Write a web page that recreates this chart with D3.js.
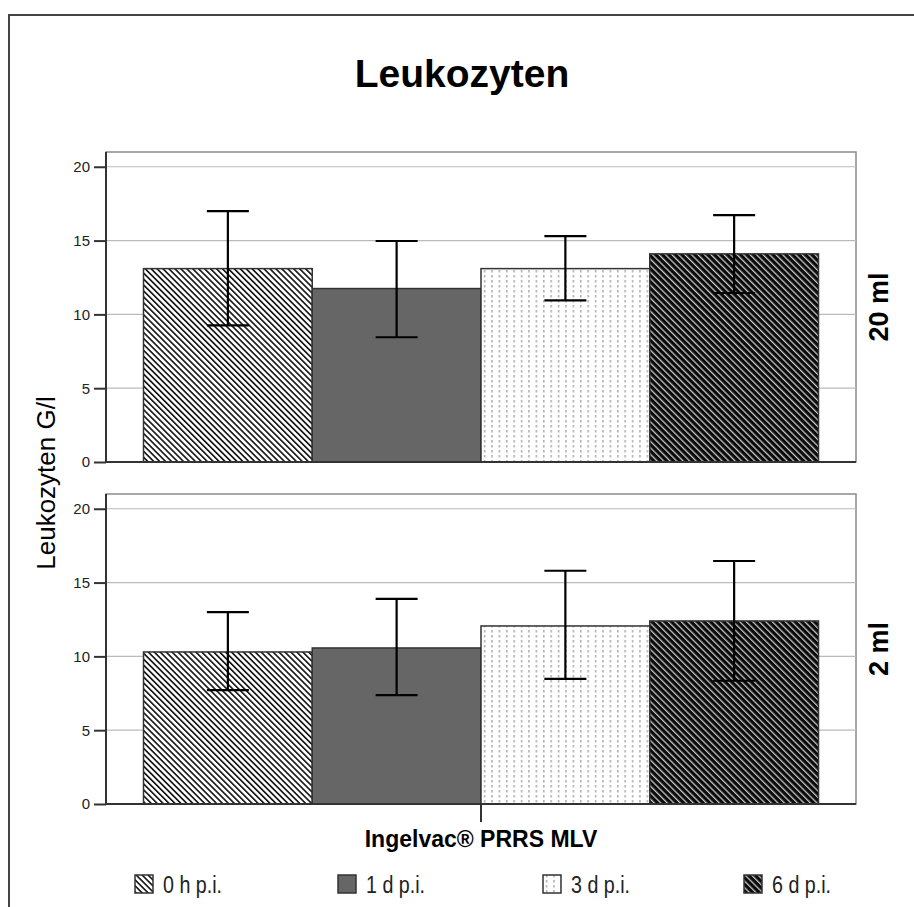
<!DOCTYPE html>
<html>
<head>
<meta charset="utf-8">
<script src="https://cdn.jsdelivr.net/npm/d3@7"></script>
<style>
  body { margin: 0; background: #fff; }
  svg text { font-family: "Liberation Sans", Arial, sans-serif; }
</style>
</head>
<body>
<div id="chart"></div>
<script>
// Leukozyten - mean with error bars, two dose panels
var times = ["0 h p.i.", "1 d p.i.", "3 d p.i.", "6 d p.i."];
var doses = ["20 ml", "2 ml"];
var category = "Ingelvac\u00AE PRRS MLV";
var yTicks = [0, 5, 10, 15, 20];

var mean20 = [13.1, 11.75, 13.1, 14.1];
var low20 = [9.25, 8.45, 10.95, 11.45];
var high20 = [17.0, 14.97, 15.3, 16.73];

var mean2 = [10.3, 10.57, 12.06, 12.4];
var low2 = [7.72, 7.38, 8.47, 8.35];
var high2 = [13.0, 13.9, 15.8, 16.46];

var panels = [
  { dose: doses[0], mean: mean20, low: low20, high: high20 },
  { dose: doses[1], mean: mean2, low: low2, high: high2 }
];

var width = 914, height = 907;
var left = 106, right = 856;
var panelTops = [152, 494], panelH = 310;

var svg = d3.select("#chart").append("svg")
  .attr("width", width)
  .attr("height", height);

// patterns
var defs = svg.append("defs");
var fills = ["url(#p0)", "#666666", "url(#p3)", "url(#p6)"];

var p0 = defs.append("pattern").attr("id", "p0")
  .attr("patternUnits", "userSpaceOnUse")
  .attr("width", 4.2).attr("height", 4.2)
  .attr("patternTransform", "rotate(-45)");
p0.append("rect").attr("width", 4.2).attr("height", 4.2).attr("fill", "#fff");
p0.append("rect").attr("width", 1.6).attr("height", 4.2).attr("fill", "#111");

var p3 = defs.append("pattern").attr("id", "p3")
  .attr("patternUnits", "userSpaceOnUse")
  .attr("width", 7.4).attr("height", 5);
p3.append("rect").attr("width", 7.4).attr("height", 5).attr("fill", "#fff");
p3.append("rect").attr("x", 3).attr("width", 1.2).attr("height", 2.5).attr("fill", "#999");

var p6 = defs.append("pattern").attr("id", "p6")
  .attr("patternUnits", "userSpaceOnUse")
  .attr("width", 4.6).attr("height", 4.6)
  .attr("patternTransform", "rotate(-45)");
p6.append("rect").attr("width", 4.6).attr("height", 4.6).attr("fill", "#0a0a0a");
p6.append("rect").attr("width", 1.3).attr("height", 4.6).attr("fill", "#c8c8c8");

// outer frame
svg.append("path")
  .attr("d", "M9," + height + "V15H" + width)
  .attr("fill", "none")
  .attr("stroke", "#444")
  .attr("stroke-width", 2);

// title
svg.append("text")
  .attr("x", 462).attr("y", 87)
  .attr("text-anchor", "middle")
  .attr("font-size", 39)
  .attr("font-weight", "bold")
  .text("Leukozyten");

var x = d3.scaleBand()
  .domain(times)
  .range([left, right])
  .paddingInner(0)
  .paddingOuter(0.2222);

panels.forEach(function(p, pi) {
  var top = panelTops[pi];
  var y = d3.scaleLinear().domain([0, 21]).range([top + panelH, top]);
  var g = svg.append("g");

  // panel frame
  g.append("rect")
    .attr("x", left).attr("y", top)
    .attr("width", right - left).attr("height", panelH)
    .attr("fill", "#fff")
    .attr("stroke", "#8a8a8a")
    .attr("stroke-width", 1.5);

  // gridlines
  g.selectAll(".grid")
    .data(yTicks.filter(function(t) { return t > 0; }))
    .enter().append("line")
      .attr("x1", left).attr("x2", right)
      .attr("y1", function(d) { return y(d); })
      .attr("y2", function(d) { return y(d); })
      .attr("stroke", "#bbbbbb")
      .attr("stroke-width", 1.2);

  // bars
  g.selectAll(".bar")
    .data(times)
    .enter().append("rect")
      .attr("x", function(d) { return x(d); })
      .attr("width", x.bandwidth())
      .attr("y", function(d, i) { return y(p.mean[i]); })
      .attr("height", function(d, i) { return y(0) - y(p.mean[i]); })
      .attr("fill", function(d, i) { return fills[i]; })
      .attr("stroke", "#333")
      .attr("stroke-width", 1.5);

  // error bars
  var eb = g.selectAll(".err")
    .data(times)
    .enter().append("g")
      .attr("transform", function(d) { return "translate(" + (x(d) + x.bandwidth() / 2) + ",0)"; })
      .attr("stroke", "#000")
      .attr("stroke-width", 2.2);
  eb.append("line")
    .attr("y1", function(d, i) { return y(p.low[i]); })
    .attr("y2", function(d, i) { return y(p.high[i]); });
  eb.append("line").attr("x1", -21).attr("x2", 21)
    .attr("y1", function(d, i) { return y(p.low[i]); })
    .attr("y2", function(d, i) { return y(p.low[i]); });
  eb.append("line").attr("x1", -21).attr("x2", 21)
    .attr("y1", function(d, i) { return y(p.high[i]); })
    .attr("y2", function(d, i) { return y(p.high[i]); });

  // y axis
  var ax = g.append("g")
    .attr("transform", "translate(" + left + ",0)")
    .call(d3.axisLeft(y).tickValues(yTicks).tickSize(12).tickPadding(4));
  ax.select(".domain").attr("stroke", "#333").attr("stroke-width", 2)
    .attr("d", "M0," + top + "V" + (top + panelH));
  ax.selectAll(".tick line").attr("stroke", "#333").attr("stroke-width", 2);
  ax.selectAll(".tick text")
    .attr("font-size", 15)
    .attr("fill", "#222")
    .style("font-family", "'Liberation Sans', Arial, sans-serif");

  // baseline
  g.append("line")
    .attr("x1", left).attr("x2", right)
    .attr("y1", y(0)).attr("y2", y(0))
    .attr("stroke", "#333").attr("stroke-width", 2);

  // panel label
  var cy = top + panelH / 2;
  g.append("text")
    .attr("transform", "translate(888," + cy + ") rotate(-90)")
    .attr("text-anchor", "middle")
    .attr("font-size", 27)
    .attr("font-weight", "bold")
    .text(p.dose);
});

// x category tick and label
var bottom = panelTops[1] + panelH;
svg.append("line")
  .attr("x1", (left + right) / 2).attr("x2", (left + right) / 2)
  .attr("y1", bottom).attr("y2", bottom + 18)
  .attr("stroke", "#333").attr("stroke-width", 2);
svg.append("text")
  .attr("x", (left + right) / 2).attr("y", 847)
  .attr("text-anchor", "middle")
  .attr("font-size", 23)
  .attr("font-weight", "bold")
  .text(category);

// y axis title
svg.append("text")
  .attr("transform", "translate(55,483) rotate(-90)")
  .attr("text-anchor", "middle")
  .attr("font-size", 26)
  .text("Leukozyten G/l");

// legend
var legX = [135, 338, 543, 744];
var leg = svg.selectAll(".leg")
  .data(times)
  .enter().append("g")
    .attr("transform", function(d, i) { return "translate(" + legX[i] + ",875)"; });
leg.append("rect")
  .attr("width", 18).attr("height", 18)
  .attr("fill", function(d, i) { return fills[i]; })
  .attr("stroke", "#333").attr("stroke-width", 1.5);
leg.append("text")
  .attr("transform", "translate(28,18) scale(0.82,1)")
  .attr("font-size", 24)
  .attr("fill", "#222")
  .text(function(d) { return d; });
</script>
</body>
</html>
